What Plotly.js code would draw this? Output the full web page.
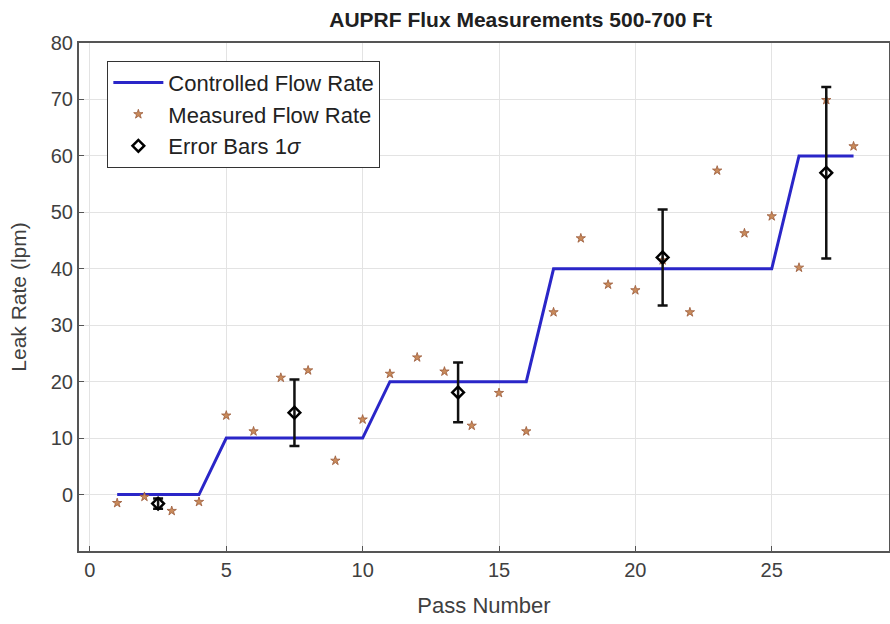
<!DOCTYPE html>
<html>
<head>
<meta charset="utf-8">
<script src="https://cdn.plot.ly/plotly-3.0.1.min.js"></script>
<style>html,body{margin:0;padding:0;background:#fff;}#chart{width:890px;height:624px;}</style>
</head>
<body>
<div id="chart"></div>
<script>
// Controlled flow rate (step profile)
const controlledPass = [1, 4, 5, 10, 11, 16, 17, 25, 26, 28];
const controlledRate = [0, 0, 10, 10, 20, 20, 40, 40, 60, 60];

// Measured flow rate per pass
const passNumber = [1,2,3,4,5,6,7,8,9,10,11,12,13,14,15,16,17,18,19,20,21,22,23,24,25,26,27,28];
const measuredRate = [-1.5,-0.4,-2.9,-1.3,14,11.2,20.7,22,6,13.3,21.4,24.3,21.8,12.2,18,11.2,32.3,45.4,37.2,36.2,41.5,32.3,57.4,46.3,49.3,40.2,69.9,61.7];

// Error bars (mean, 1 sigma)
const errPass = [2.5, 7.5, 13.5, 21, 27];
const errMean = [-1.6, 14.5, 18.1, 42, 57];
const errSigma = [0.9, 5.9, 5.3, 8.5, 15.2];

const fontFam = '"Liberation Sans", Arial, sans-serif';

const traces = [
  {
    x: controlledPass, y: controlledRate, type: 'scatter', mode: 'lines',
    name: 'Controlled Flow Rate',
    line: {color: '#2a26c8', width: 3}
  },
  {
    x: passNumber, y: measuredRate, type: 'scatter', mode: 'markers',
    name: 'Measured Flow Rate',
    marker: {symbol: 'star', size: 7, color: '#c98a5a', line: {color: '#9a5a3a', width: 0.8}}
  },
  {
    x: errPass, y: errMean, type: 'scatter', mode: 'markers',
    name: 'Error Bars 1<i>σ</i>',
    marker: {symbol: 'diamond-open', size: 9, color: '#000', line: {color: '#000', width: 2.5}},
    error_y: {type: 'data', array: errSigma, visible: true, color: '#111', thickness: 2.5, width: 5}
  }
];

const layout = {
  width: 890, height: 624,
  margin: {l: 79, r: 1, t: 43, b: 73},
  paper_bgcolor: '#fff', plot_bgcolor: '#fff',
  font: {family: fontFam, color: '#404040', size: 20},
  title: {
    text: '<b>AUPRF Flux Measurements 500-700 Ft</b>',
    font: {family: fontFam, size: 21, color: '#202020'},
    x: 0.585, xanchor: 'center', y: 0.968, yanchor: 'middle'
  },
  xaxis: {
    range: [-0.4, 29.3],
    tickvals: [0, 5, 10, 15, 20, 25],
    showgrid: true, gridcolor: '#e3e3e3', gridwidth: 1,
    zeroline: false,
    showline: true, linecolor: '#555', linewidth: 2, mirror: true,
    ticks: 'inside', ticklen: 5, tickcolor: '#555',
    tickfont: {size: 20, color: '#404040'},
    title: {text: 'Pass Number', font: {size: 22, color: '#404040'}, standoff: 18}
  },
  yaxis: {
    range: [-10, 80],
    tickvals: [0, 10, 20, 30, 40, 50, 60, 70, 80],
    showgrid: true, gridcolor: '#e3e3e3', gridwidth: 1,
    zeroline: false,
    showline: true, linecolor: '#555', linewidth: 2, mirror: true,
    ticks: 'inside', ticklen: 5, tickcolor: '#555',
    tickfont: {size: 20, color: '#404040'},
    title: {text: 'Leak Rate (lpm)', font: {size: 21, color: '#404040'}, standoff: 18}
  },
  legend: {
    x: 0.035, y: 0.965, xanchor: 'left', yanchor: 'top',
    bgcolor: '#fff', bordercolor: '#333', borderwidth: 1,
    font: {family: fontFam, size: 22, color: '#222'},
    tracegroupgap: 0, itemwidth: 50
  },
  showlegend: true
};

Plotly.newPlot('chart', traces, layout, {displayModeBar: false, staticPlot: true});
</script>
</body>
</html>
